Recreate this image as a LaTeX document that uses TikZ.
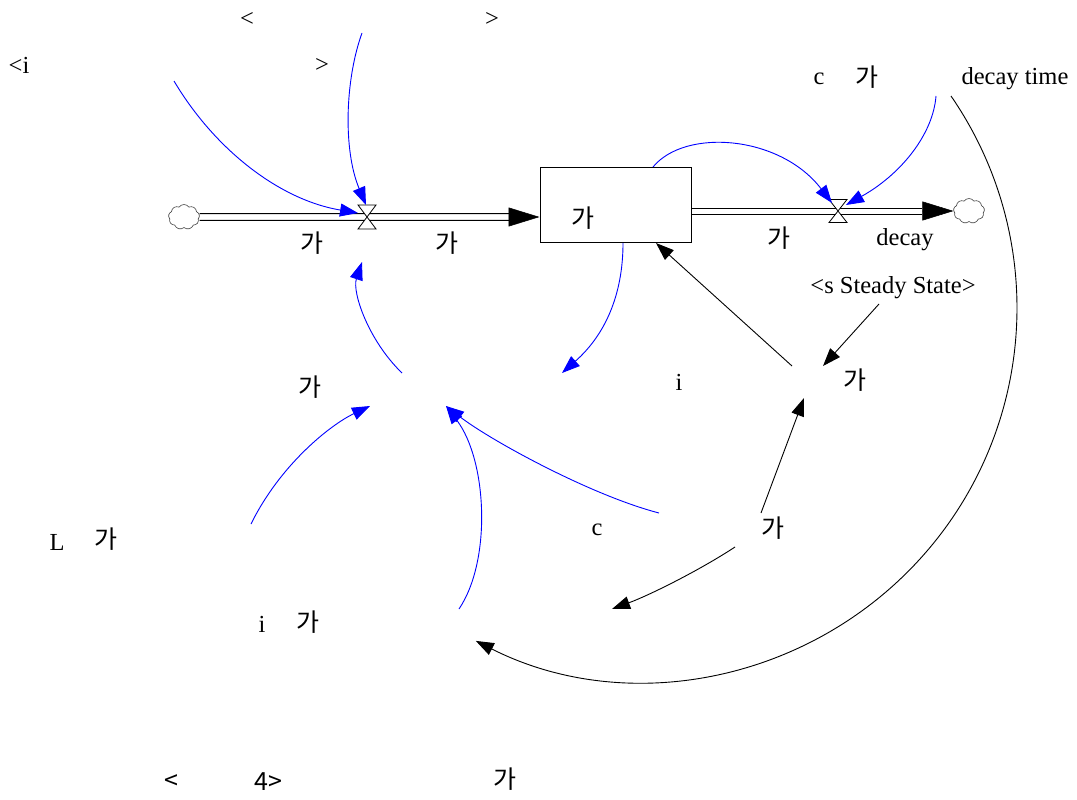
\documentclass[tikz,border=0pt]{standalone}
\usepackage{fontspec}
\setmainfont{Liberation Serif}
\newfontfamily\krfont{Noto Sans CJK KR}
\usetikzlibrary{arrows.meta,shapes.symbols}
\begin{document}
\begin{tikzpicture}[x=1pt,y=-1pt,
  lbl/.style={inner sep=0pt, font=\fontsize{24.5}{28}\selectfont},
  kr/.style={inner sep=0pt, font=\fontsize{25}{28}\selectfont\krfont},
  infl/.style={draw=blue, line width=0.9pt, -{Triangle[length=18pt,width=13pt,fill=blue]}},
  cause/.style={draw=black, line width=0.9pt, -{Triangle[length=18pt,width=13pt]}},
  pipeline/.style={draw=black, line width=1pt},
  pipehead/.style={draw=black, line width=0.5pt, -{Triangle[length=31pt,width=19pt]}},
  cloudnode/.style={cloud, cloud puffs=9, cloud puff arc=110, draw=black!75, line width=0.6pt, minimum width=31pt, minimum height=25pt, inner sep=0pt},
  valve/.style={draw=black, fill=white, line width=0.8pt},
  stockbox/.style={draw=black, line width=1pt, minimum width=151pt, minimum height=75pt, inner sep=0pt}
]
\useasboundingbox (0,0) rectangle (1077,800);

% ---- stock, clouds, valves ----
\node[stockbox] (stock) at (615.5,204.5) {};
\node[kr] (stocklbl) at (583,218) {가};
\node[cloudnode] (cL) at (184,217) {};
\node[cloudnode] (cR) at (969,211) {};
\coordinate (vL) at (367,217);
\coordinate (vR) at (838,211);

% inflow pipe
\coordinate (pLb) at (509,217);
\draw[pipeline] ([yshift=3.3pt]cL.east) -- ([yshift=3.3pt]pLb);
\draw[pipeline] ([yshift=-3.3pt]cL.east) -- ([yshift=-3.3pt]pLb);
\draw[pipehead] (pLb) -- (stock.west |- pLb);
\draw[valve] (vL) ++(-9,-12) -- ++(18,0) -- ++(-9,12) -- ++(-9,12) -- ++(18,0) -- ++(-9,-12) -- cycle;

% outflow pipe
\coordinate (pRs) at (691.5,211);
\coordinate (pRb) at (922,211);
\draw[pipeline] ([yshift=3pt]pRs) -- ([yshift=3pt]pRb);
\draw[pipeline] ([yshift=-3pt]pRs) -- ([yshift=-3pt]pRb);
\draw[pipehead] (pRb) -- (cR.west);
\draw[valve] (vR) ++(-9,-11.5) -- ++(18,0) -- ++(-9,11.5) -- ++(-9,11.5) -- ++(18,0) -- ++(-9,-11.5) -- cycle;

% ---- texts ----
\node[lbl] (t1) at (247,19) {<};
\node[lbl] (t2) at (492,19) {>};
\node[lbl] (t3) at (19,65) {<i};
\node[lbl] (t4) at (322,65) {>};
\node[lbl] (t5) at (819,79) {c};
\node[kr]  (t6) at (867,77) {가};
\node[lbl] (t7) at (1015,79) {decay time};
\node[kr]  (t9) at (312,243) {가};
\node[kr]  (t10) at (447,243) {가};
\node[kr]  (t11) at (779,238) {가};
\node[lbl] (t12) at (905,240) {decay};
\node[lbl] (t13) at (893,288) {<s Steady State>};
\node[lbl] (t14) at (679,382) {i};
\node[kr]  (t15) at (855,380) {가};
\node[kr]  (t16) at (310,387) {가};
\node[lbl] (t17) at (57,542) {L};
\node[kr]  (t18) at (106,539) {가};
\node[lbl] (t19) at (597,530) {c};
\node[kr]  (t20) at (773,528) {가};
\node[lbl] (t21) at (262,624) {i};
\node[kr]  (t22) at (308,622) {가};
\node[kr]  (t23) at (171,782) {<};
\node[kr]  (t24) at (268,782) {4>};
\node[kr]  (t25) at (505,779) {가};

% ---- connector end points ----
\coordinate (a1s) at (174,81);   \coordinate (a1e) at (358,213);
\coordinate (a2s) at (362,33);   \coordinate (a2e) at (366,205);
\coordinate (a3s) at (402,373);  \coordinate (a3e) at (362,262);
\coordinate (a4s) at (653,167);  \coordinate (a4e) at (832,203);
\coordinate (a5s) at (936,96);   \coordinate (a5e) at (846,205);
\coordinate (a6s) at (951,96);   \coordinate (a6m) at (925.1,553.2); \coordinate (a6e) at (475.8,640.9);
\coordinate (a7s) at (623,243);  \coordinate (a7e) at (562,373);
\coordinate (a8s) at (792,366);  \coordinate (a8e) at (656,243);
\coordinate (a9s) at (879,304);  \coordinate (a9e) at (823,366);
\coordinate (a10s) at (761,513); \coordinate (a10e) at (804,398);
\coordinate (a11s) at (735,547); \coordinate (a11e) at (612,609);
\coordinate (a12s) at (659,513); \coordinate (a12e) at (446,406);
\coordinate (a13s) at (459,609); \coordinate (a13e) at (446,406);
\coordinate (a14s) at (251,524); \coordinate (a14e) at (370,406);

% ---- blue influences ----
\draw[infl] (a1s) .. controls (215,150) and (280,200) .. (a1e);
\draw[infl] (a2s) .. controls (345,80) and (343,150) .. (a2e);
\draw[infl] (a3s) .. controls (368,340) and (352,292) .. (a3e);
\draw[infl] (a4s) .. controls (685,128) and (780,135) .. (a4e);
\draw[infl] (a5s) .. controls (933,135) and (900,175) .. (a5e);
\draw[infl] (a7s) .. controls (623,295) and (605,335) .. (a7e);
\draw[infl] (a12s) .. controls (590,495) and (490,440) .. (a12e);
\draw[infl] (a13s) .. controls (492,560) and (487,460) .. (a13e);
\draw[infl] (a14s) .. controls (280,465) and (330,425) .. (a14e);

% ---- black causal links ----
\draw[cause] (a6s) .. controls (1047.8,236.5) and (1037.2,424.7) .. (a6m)
                   .. controls (813.0,681.7) and (628.0,717.8) .. (a6e);
\draw[cause] (a8s) -- (a8e);
\draw[cause] (a9s) -- (a9e);
\draw[cause] (a10s) -- (a10e);
\draw[cause] (a11s) .. controls (700,570) and (650,595) .. (a11e);
\end{tikzpicture}
\end{document}
